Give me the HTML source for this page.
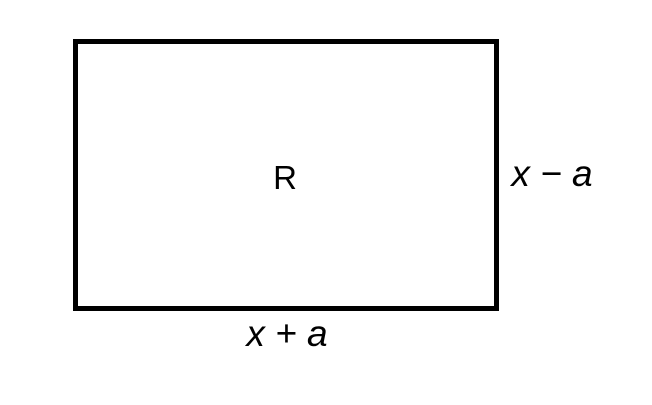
<!DOCTYPE html>
<html><head><style>body{margin:0;background:#fff}</style></head>
<body>
<svg width="652" height="400" xmlns="http://www.w3.org/2000/svg">
<rect x="75.5" y="41.5" width="421" height="267" fill="#fff" stroke="#000" stroke-width="5"/>
<text x="285" y="189" font-family="Liberation Sans, sans-serif" font-size="33" text-anchor="middle">R</text>
<text x="552" y="186" font-family="Liberation Sans, sans-serif" font-size="37" font-style="italic" text-anchor="middle">x − a</text>
<text x="287" y="346" font-family="Liberation Sans, sans-serif" font-size="37" font-style="italic" text-anchor="middle">x + a</text>
</svg>
</body></html>
